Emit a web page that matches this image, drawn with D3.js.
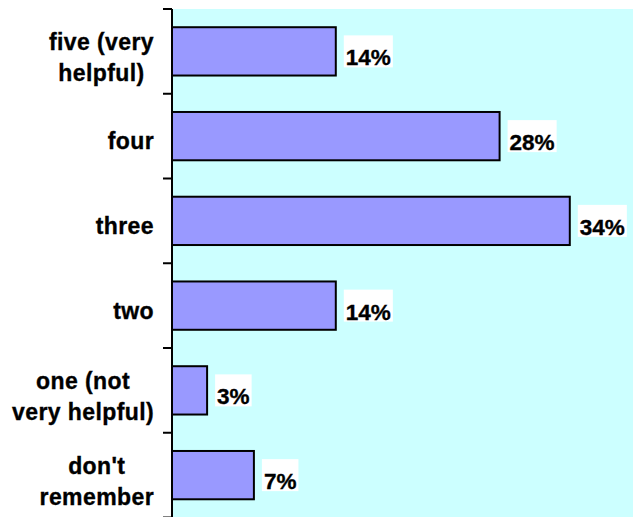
<!DOCTYPE html>
<html>
<head>
<meta charset="utf-8">
<script src="https://cdn.jsdelivr.net/npm/d3@7/dist/d3.min.js"></script>
<style>
  html, body { margin: 0; padding: 0; background: #ffffff; }
  svg { display: block; }
  text { font-family: "Liberation Sans", Arial, sans-serif; font-weight: bold; fill: #000; stroke: #000; stroke-width: 0.35px; }
</style>
</head>
<body>
<svg id="chart" width="633" height="517"></svg>
<script>
// Helpfulness ratings, top to bottom
const categories = [
  ["five (very", "helpful)"],
  ["four"],
  ["three"],
  ["two"],
  ["one (not", "very helpful)"],
  ["don't", "remember"]
];
const shares = [14, 28, 34, 14, 3, 7];   // percent of respondents
const xMax = 40;

const width = 633, height = 517;
const plot = { left: 172, top: 9, right: 640, bottom: 517.5 };

const svg = d3.select("#chart");

const y = d3.scaleBand()
  .domain(d3.range(categories.length))
  .range([plot.top, plot.bottom])
  .paddingInner(0.43)
  .paddingOuter(0.215);

const x = d3.scaleLinear()
  .domain([0, xMax])
  .range([plot.left, plot.right]);

// plot background
svg.append("rect")
  .attr("x", plot.left).attr("y", plot.top)
  .attr("width", width - plot.left).attr("height", height - plot.top)
  .attr("fill", "#ccffff");

// bars
svg.append("g").selectAll("rect")
  .data(shares)
  .join("rect")
  .attr("x", x(0))
  .attr("y", (d, i) => y(i))
  .attr("width", d => x(d) - x(0))
  .attr("height", y.bandwidth())
  .attr("fill", "#9999ff")
  .attr("stroke", "#000")
  .attr("stroke-width", 2);

// category axis: line plus ticks at band boundaries
const step = y.step();
const axis = svg.append("g");
axis.append("line")
  .attr("x1", plot.left).attr("x2", plot.left)
  .attr("y1", plot.top).attr("y2", height)
  .attr("stroke", "#000").attr("stroke-width", 2);
axis.selectAll("line.tick")
  .data(d3.range(categories.length + 1))
  .join("line")
  .attr("class", "tick")
  .attr("x1", plot.left - 9).attr("x2", plot.left)
  .attr("y1", i => plot.top + i * step)
  .attr("y2", i => plot.top + i * step)
  .attr("stroke", "#000").attr("stroke-width", 2);

// category labels: each block right-aligned, lines centred within it
const labelRight = 154;
const lineGap = 31;
const catG = svg.append("g").attr("font-size", 23).attr("letter-spacing", 0.4);
categories.forEach((lines, i) => {
  const cy = y(i) + y.bandwidth() / 2;
  const t = catG.append("text").attr("text-anchor", "middle");
  const first = lines.length === 1 ? cy + 13 : cy - 1;
  lines.forEach((s, k) => {
    t.append("tspan").attr("x", 0).attr("y", first + k * lineGap).text(s);
  });
  const w = t.node().getBBox().width;
  t.selectAll("tspan").attr("x", labelRight - w / 2);
});

// value labels on white boxes
const fmt = d => d + "%";
const valG = svg.append("g").attr("font-size", 22.5);
shares.forEach((d, i) => {
  const cy = y(i) + y.bandwidth() / 2;
  const g = valG.append("g");
  const box = g.append("rect").attr("fill", "#fff").style("stroke", "none");
  const t = g.append("text")
    .attr("x", x(d) + 10)
    .attr("y", cy + 14)
    .text(fmt(d));
  const bb = t.node().getBBox();
  box.attr("x", bb.x - 2).attr("y", cy - 16)
    .attr("width", bb.width + 4).attr("height", 32);
});
</script>
</body>
</html>
